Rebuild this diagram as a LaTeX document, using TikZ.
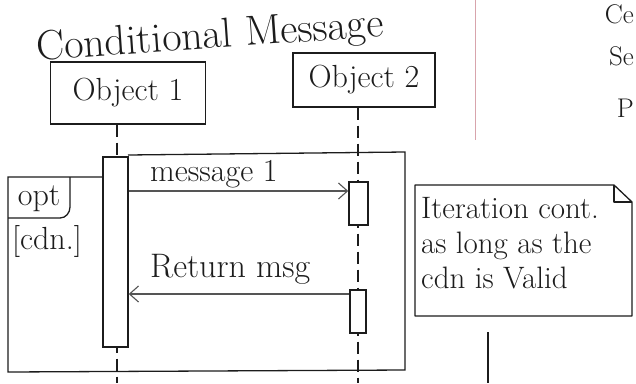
\documentclass[tikz,border=0pt]{standalone}
\usetikzlibrary{arrows.meta,positioning,shapes.geometric}
\definecolor{seqInk}{HTML}{1C1C1C}
\definecolor{seqMargin}{HTML}{D8A4AC}
\definecolor{seqGray}{HTML}{555555}
\tikzset{
  every picture/.style={text=seqInk},
  seq text/.style={font=\fontsize{32}{36}\selectfont, inner sep=0pt},
  seq object/.style={draw=seqInk, line width=1.4pt, seq text},
  seq bar/.style={draw=seqInk, line width=1.4pt, fill=white, inner sep=0pt},
  seq life/.style={draw=seqInk, line width=1.2pt, dash pattern=on 12pt off 6pt},
  seq msg/.style={-{Straight Barb[length=9pt,width=16pt]},
    draw=seqGray, line width=1.1pt},
  seq frame/.style={draw=seqInk, line width=1.3pt},
  seq note/.style={draw=seqInk, line width=1.3pt, line join=round}
}

\begin{document}
\begin{tikzpicture}[x=1pt,y=-1pt]
  \useasboundingbox (0,0) rectangle (636,383);
  % page margin and words of the next column
  \draw[seqMargin, line width=1pt] (475,0) -- (475,140);
  \node[seq text, anchor=east, font=\fontsize{27}{30}\selectfont] (cutA) at (634,14) {Ce};
  \node[seq text, anchor=east, font=\fontsize{27}{30}\selectfont] (cutB) at (634,56) {Se};
  \node[seq text, anchor=east, font=\fontsize{27}{30}\selectfont] (cutC) at (634,108) {P};

  \node[seq text, font=\fontsize{42}{46}\selectfont, rotate=4] (title) at (210,38) {Conditional Message};

  % objects
  \node[seq object, minimum width=155pt, minimum height=62pt] (obj1) at (128,93) {Object 1};
  \node[seq object, minimum width=142pt, minimum height=54pt] (obj2) at (364,80) {Object 2};

  % lifelines
  \coordinate (end1) at (117,383);
  \coordinate (end2) at (358,383);
  \draw[seq life] (obj1.south -| end1) -- (end1);
  \draw[seq life] (obj2.south -| end2) -- (end2);

  % opt frame
  \draw[seq frame] (128,155) -- (405,152) -- (405,370) -- (8,372) -- (8,177) -- (103,177);
  \draw[seq frame] (8,218) -- (60,218) to[out=0,in=-90] (70,207) -- (70,177);
  \node[seq text] (opt) at (39,199) {opt};
  \node[seq text] (cond) at (47,241) {[cdn.]};

  % activations
  \node[seq bar, minimum width=25pt, minimum height=190pt] (bar1) at (115.5,252) {};
  \node[seq bar, minimum width=19pt, minimum height=43pt] (bar2a) at (358.5,203.5) {};
  \node[seq bar, minimum width=16pt, minimum height=43pt] (bar2b) at (358,311.5) {};

  % messages
  \coordinate (m1) at (0,191);
  \coordinate (m2) at (0,294);
  \draw[seq msg] (bar1.east |- m1) -- (bar2a.west |- m1);
  \node[seq text, anchor=south west] (msg1) at (150,188) {message 1};
  \draw[seq msg] (bar2b.west |- m2) -- (bar1.east |- m2);
  \node[seq text, anchor=south west, font=\fontsize{34}{38}\selectfont] (msg2) at (150,285) {Return msg};

  % note
  \node[seq text, align=left, anchor=north west, font=\fontsize{31}{35}\selectfont] (note) at (421,197)
    {Iteration cont.\\as long as the\\cdn is Valid};
  \draw[seq note] (415,185) -- (614,185) -- (632,202) -- (632,316) -- (415,316) -- cycle;
  \draw[seq note] (614,185) -- (614,202) -- (632,202);
  \draw[seq frame] (488,332) -- (488,383);
\end{tikzpicture}
\end{document}
